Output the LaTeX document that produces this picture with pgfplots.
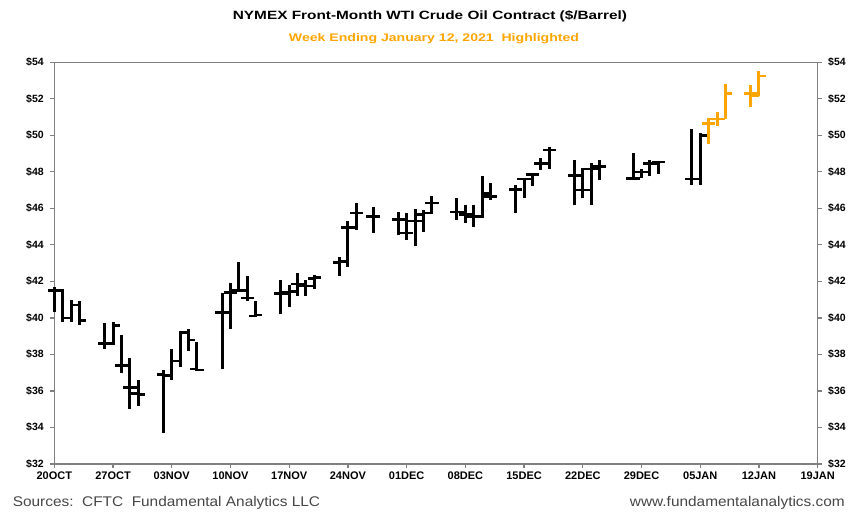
\documentclass[border=0pt]{standalone}
\usepackage{fontspec}
\setmainfont{Liberation Sans}
\usepackage{pgfplots}
\usepackage{pgfplotstable}
\pgfplotsset{compat=1.18}
\definecolor{hl}{RGB}{255,165,0}
\definecolor{axgray}{RGB}{128,128,128}
\definecolor{foot}{RGB}{70,70,70}

% d = days after 20 Oct 2020; o h l c
\pgfplotstableread{
d o h l c
0 41.5 41.7 40.3 41.5
1 41.5 41.6 39.8 40.0
2 40.0 41.0 39.8 40.7
3 40.7 40.9 39.6 39.85
6 38.6 39.7 38.3 38.6
7 38.6 39.8 38.5 39.6
8 37.4 39.05 37.0 37.4
9 36.2 37.8 35.0 36.2
10 35.85 36.6 35.2 35.8
13 36.9 37.15 33.7 36.85
14 36.85 38.3 36.6 37.65
15 37.65 39.3 37.3 39.2
16 39.2 39.4 38.2 38.8
17 37.2 38.7 37.1 37.15
20 40.3 41.35 37.2 40.3
21 41.4 41.9 39.4 41.4
22 41.5 43.05 41.4 41.5
23 41.1 42.3 40.9 41.1
24 40.1 40.95 40.05 40.15
27 41.35 42.05 40.2 41.35
28 41.4 41.8 40.6 41.45
29 41.85 42.45 41.2 41.85
30 41.75 42.1 41.2 41.75
31 42.15 42.35 41.6 42.2
34 43.05 43.35 42.3 43.1
35 44.95 45.3 42.8 44.95
36 45.75 46.3 44.8 45.75
38 45.55 46.1 44.65 45.55
41 45.4 45.8 44.55 45.4
42 44.65 45.75 44.25 44.65
43 45.3 45.95 43.95 45.3
44 45.65 45.9 44.7 45.75
45 46.3 46.7 45.7 46.3
48 45.8 46.55 45.35 45.8
49 45.65 46.2 45.2 45.65
50 45.55 46.2 45.0 45.55
51 45.55 47.8 45.5 46.8
52 46.65 47.4 46.45 46.65
55 47.05 47.3 45.75 47.05
56 47.6 47.65 46.55 47.6
57 47.85 47.95 47.2 47.85
58 48.45 48.75 48.1 48.45
59 49.2 49.35 48.15 49.2
62 47.8 48.65 46.2 47.8
63 47.0 48.2 46.55 47.0
64 48.15 48.5 46.2 48.15
65 48.3 48.65 47.55 48.3
69 47.65 49.05 47.65 47.65
70 48.0 48.15 47.65 48.0
71 48.45 48.65 47.75 48.45
72 48.55 48.6 47.9 48.55
76 47.6 50.35 47.3 47.6
77 47.6 50.15 47.3 50.0
}\blackdata

\pgfplotstableread{
d o h l c
78 50.65 50.95 49.55 50.65
79 50.9 51.3 50.5 50.9
80 50.9 52.8 50.9 52.3
83 52.3 52.75 51.55 52.3
84 52.15 53.5 52.15 53.25
}\orangedata

\newcommand{\ohlc}[2]{%
\addplot[draw=none, mark=none, forget plot,
  error bars/.cd, y dir=plus, y explicit, error mark=none,
  error bar style={draw=#2, line width=3pt}]
  table[x=d, y=l, y error expr=\thisrow{h}-\thisrow{l}] {#1};
\addplot[draw=none, mark=none, forget plot,
  error bars/.cd, x dir=minus, x fixed=0.8, error mark=none,
  error bar style={draw=#2, line width=2.6pt}]
  table[x=d, y=o] {#1};
\addplot[draw=none, mark=none, forget plot,
  error bars/.cd, x dir=plus, x fixed=0.8, error mark=none,
  error bar style={draw=#2, line width=2.6pt}]
  table[x=d, y=c] {#1};
}

\begin{document}
\begin{tikzpicture}
\useasboundingbox (-54.3pt,-51pt) rectangle (799.7pt,464pt);
\begin{axis}[
  at={(0,0)}, anchor=south west,
  scale only axis, width=763.4pt, height=401.7pt,
  xmin=0, xmax=91, ymin=32, ymax=54,
  xtick={0,7,...,91},
  xticklabels={20OCT,27OCT,03NOV,10NOV,17NOV,24NOV,01DEC,08DEC,15DEC,22DEC,29DEC,05JAN,12JAN,19JAN},
  ytick={32,34,...,54},
  yticklabel={\$\pgfmathprintnumber{\tick}},
  /pgf/number format/assume math mode=true,
  tick align=outside, major tick length=4pt,
  xtick pos=bottom, ytick pos=left,
  axis line style={axgray, line width=1.2pt},
  tick style={axgray, line width=1.2pt},
  ticklabel style={font=\bfseries\fontsize{10.5}{12}\selectfont, text=black},
  xticklabel style={font=\bfseries\fontsize{11}{12}\selectfont},
  yticklabel style={xshift=-3pt},
  clip=false,
]
\ohlc{\blackdata}{black}
\ohlc{\orangedata}{hl}
\node at (rel axis cs:0.5,1) [xshift=-6pt, yshift=46pt] {\scalebox{1.28}[1]{\bfseries\fontsize{12}{14}\selectfont NYMEX Front-Month WTI Crude Oil Contract (\$/Barrel)}};
\node at (rel axis cs:0.5,1) [xshift=-2pt, yshift=24pt, text=hl] {\scalebox{1.28}[1]{\bfseries\fontsize{11}{13}\selectfont Week Ending January 12, 2021\ \ Highlighted}};
\end{axis}
\begin{axis}[
  at={(0,0)}, anchor=south west,
  scale only axis, width=763.4pt, height=401.7pt,
  xmin=0, xmax=91, ymin=32, ymax=54,
  axis x line=none, axis y line*=right,
  ytick={32,34,...,54},
  yticklabel={\$\pgfmathprintnumber{\tick}},
  /pgf/number format/assume math mode=true,
  tick align=outside, major tick length=4pt,
  axis line style={axgray, line width=1.2pt},
  tick style={axgray, line width=1.2pt},
  ticklabel style={font=\bfseries\fontsize{10.5}{12}\selectfont, text=black},
  yticklabel style={xshift=3pt},
]
\end{axis}
\node[anchor=west, text=foot] at (-45pt,-39pt) {\scalebox{1.1}[1]{\fontsize{14}{16}\selectfont Sources:\ \ CFTC\ \ Fundamental Analytics LLC}};
\node[anchor=east, text=foot] at (794pt,-39pt) {\scalebox{1.1}[1]{\fontsize{14}{16}\selectfont www.fundamentalanalytics.com}};
\end{tikzpicture}
\end{document}
